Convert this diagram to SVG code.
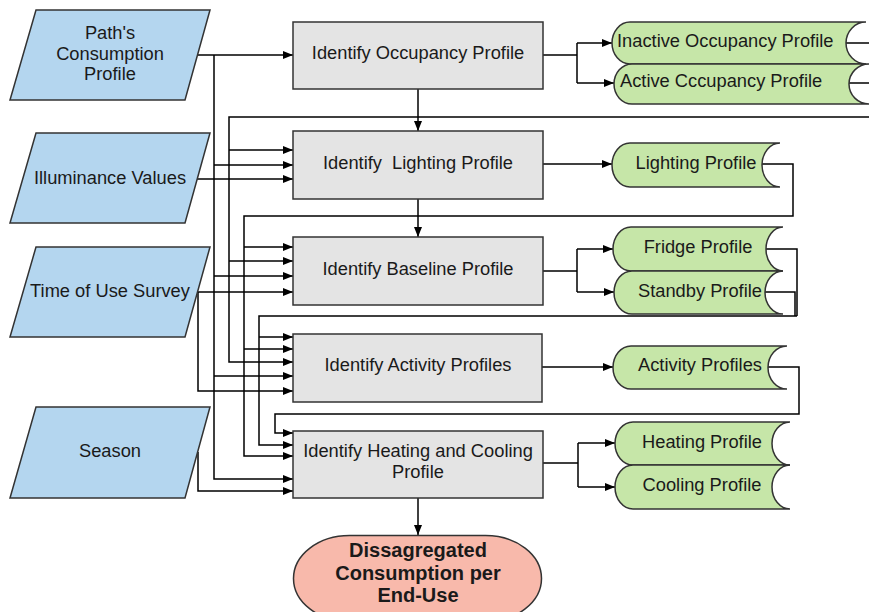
<svg xmlns="http://www.w3.org/2000/svg" width="869" height="612" viewBox="0 0 869 612">
<defs>
<marker id="ah" markerUnits="userSpaceOnUse" markerWidth="11" markerHeight="8" refX="10" refY="4" orient="auto">
<path d="M0,0 L10,4 L0,8 z" fill="#000"/>
</marker>
<style>
.inp{fill:#b4d6ef;stroke:#333;stroke-width:1.5}
.proc{fill:#e4e4e4;stroke:#333;stroke-width:1.5}
.data{fill:#c6e6a8;stroke:#333;stroke-width:1.5}
.term{fill:#f8b9ab;stroke:#333;stroke-width:1.5}
text{font-family:"Liberation Sans",Arial,sans-serif;font-size:18.3px;fill:#1a1a1a}
.c{text-anchor:middle}
.b{font-weight:bold;font-size:20px}
#connectors path{fill:none;stroke:#000;stroke-width:1.5}
#connectors path.a{marker-end:url(#ah)}
</style>
</defs>
<rect width="869" height="612" fill="#fff"/>

<g id="connectors">
<!-- inputs -->
<path class="a" d="M197,55 H293"/>
<path class="a" d="M214,55 V479 H293"/>
<path class="a" d="M214,165 H293"/>
<path class="a" d="M214,276 H293"/>
<path class="a" d="M214,376 H293"/>
<path class="a" d="M197,179 H293"/>
<path class="a" d="M197,292 H293"/>
<path class="a" d="M198,292 V391 H293"/>
<path class="a" d="M198,452 V491 H293"/>
<!-- occupancy feedback -->
<path d="M845,43 H869"/>
<path d="M848,83 H869"/>
<path class="a" d="M869,117 H229 V362 H293"/>
<path class="a" d="M229,150 H293"/>
<path class="a" d="M229,261 H293"/>
<!-- lighting -->
<path class="a" d="M543,164 H612"/>
<path class="a" d="M762,164 H793 V216 H244 V456 H293"/>
<path class="a" d="M244,247 H293"/>
<path class="a" d="M244,349 H293"/>
<!-- baseline -->
<path d="M543,271 H577 M577,249 V292"/>
<path class="a" d="M577,249 H613"/>
<path class="a" d="M577,292 H614"/>
<path d="M766,249 H797 V316"/>
<path d="M765,292 H795 V316"/>
<path class="a" d="M797,316 H259 V445 H293"/>
<path class="a" d="M259,337 H293"/>
<!-- activity -->
<path class="a" d="M542,367 H613"/>
<path class="a" d="M767,367 H799 V414 H275 V433 H293"/>
<!-- heating -->
<path d="M543,463 H578 M578,443 V487"/>
<path class="a" d="M578,443 H615"/>
<path class="a" d="M578,487 H615"/>
<!-- occupancy outputs -->
<path d="M543,55 H577 M577,43 V83"/>
<path class="a" d="M577,43 H612"/>
<path class="a" d="M577,83 H614"/>
<!-- vertical flow -->
<path class="a" d="M418,89 V131"/>
<path class="a" d="M418,199 V237"/>
<path class="a" d="M418,498 V535"/>
</g>

<g id="in-path">
<polygon class="inp" points="36,10 210,10 185,100 10,100"/>
<text class="c" x="110" y="39">Path's</text>
<text class="c" x="110" y="59.5">Consumption</text>
<text class="c" x="110" y="80">Profile</text>
</g>
<g id="in-illuminance">
<polygon class="inp" points="36,133 210,133 185,223 10,223"/>
<text class="c" x="110" y="184">Illuminance Values</text>
</g>
<g id="in-tou">
<polygon class="inp" points="36,247 210,247 185,337 10,337"/>
<text class="c" x="110" y="297">Time of Use Survey</text>
</g>
<g id="in-season">
<polygon class="inp" points="36,407 210,407 185,498 10,498"/>
<text class="c" x="110" y="457">Season</text>
</g>

<g id="p-occupancy">
<rect class="proc" x="293" y="22" width="250" height="67"/>
<text class="c" x="418" y="59">Identify Occupancy Profile</text>
</g>
<g id="p-lighting">
<rect class="proc" x="293" y="131" width="250" height="68"/>
<text class="c" x="418" y="169" xml:space="preserve">Identify  Lighting Profile</text>
</g>
<g id="p-baseline">
<rect class="proc" x="293" y="237" width="250" height="68"/>
<text class="c" x="418" y="275">Identify Baseline Profile</text>
</g>
<g id="p-activity">
<rect class="proc" x="293" y="334" width="249" height="68"/>
<text class="c" x="418" y="371">Identify Activity Profiles</text>
</g>
<g id="p-heating">
<rect class="proc" x="293" y="431" width="250" height="67"/>
<text class="c" x="418" y="457">Identify Heating and Cooling</text>
<text class="c" x="418" y="478">Profile</text>
</g>

<g id="d-inactive">
<path class="data" d="M630,22 L866,22 A20,21 0 0 0 866,64 L630,64 A18,21 0 0 1 630,22 Z"/>
<text x="617" y="47">Inactive Occupancy Profile</text>
</g>
<g id="d-active">
<path class="data" d="M632,64 L869,64 A20,20 0 0 0 869,104 L632,104 A18,20 0 0 1 632,64 Z"/>
<text x="620" y="87">Active Cccupancy Profile</text>
</g>
<g id="d-lighting">
<path class="data" d="M630,143 L780,143 A18,22 0 0 0 780,187 L630,187 A18,22 0 0 1 630,143 Z"/>
<text class="c" x="696" y="169">Lighting Profile</text>
</g>
<g id="d-fridge">
<path class="data" d="M631,227 L783,227 A17,22 0 0 0 783,271 L631,271 A18,22 0 0 1 631,227 Z"/>
<text class="c" x="698" y="253">Fridge Profile</text>
</g>
<g id="d-standby">
<path class="data" d="M632,271 L783,271 A18,21.5 0 0 0 783,314 L632,314 A18,21.5 0 0 1 632,271 Z"/>
<text class="c" x="700" y="297">Standby Profile</text>
</g>
<g id="d-activity">
<path class="data" d="M631,346 L787,346 A19,21.5 0 0 0 787,389 L631,389 A18,21.5 0 0 1 631,346 Z"/>
<text class="c" x="700" y="371">Activity Profiles</text>
</g>
<g id="d-heating">
<path class="data" d="M633,422 L790,422 A18,21.5 0 0 0 790,465 L633,465 A18,21.5 0 0 1 633,422 Z"/>
<text class="c" x="702" y="448">Heating Profile</text>
</g>
<g id="d-cooling">
<path class="data" d="M633,465 L790,465 A18,22 0 0 0 790,509 L633,509 A18,22 0 0 1 633,465 Z"/>
<text class="c" x="702" y="491">Cooling Profile</text>
</g>

<g id="t-result">
<rect class="term" x="293.5" y="535.5" width="248" height="86" rx="56" ry="43"/>
<text class="c b" x="418" y="557">Dissagregated</text>
<text class="c b" x="418" y="580">Consumption per</text>
<text class="c b" x="418" y="602">End-Use</text>
</g>
</svg>
